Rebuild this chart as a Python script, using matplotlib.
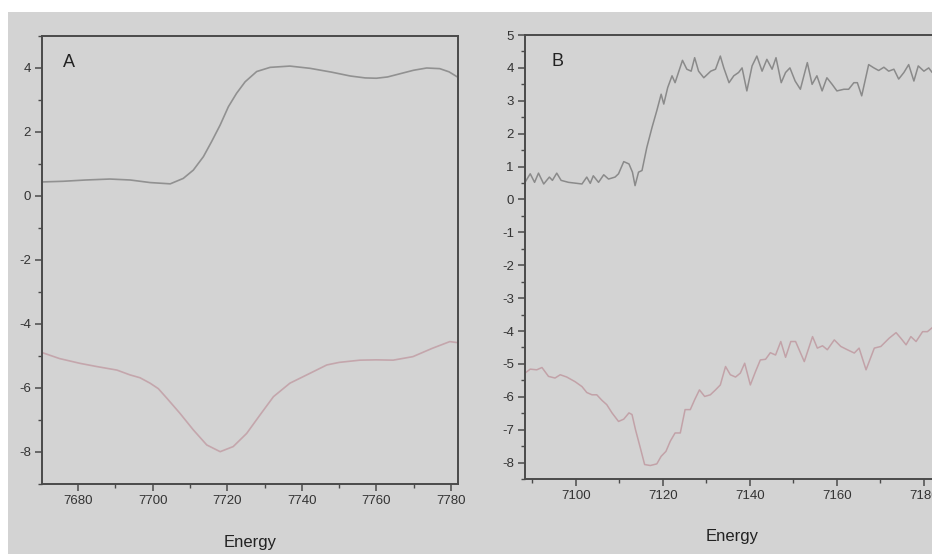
import matplotlib
matplotlib.use("Agg")
import matplotlib.pyplot as plt
from matplotlib.ticker import MultipleLocator
from matplotlib.patches import Rectangle

plt.rcParams['font.family'] = ['Liberation Sans', 'DejaVu Sans']
plt.rcParams['axes.unicode_minus'] = False

# ---- Panel A data ----
a_top_x = [7670.5, 7676, 7682, 7688.5, 7694, 7699.3, 7704.7, 7708.2, 7710.9, 7713.6,
           7715.8, 7718.1, 7720.3, 7722.5, 7724.8, 7727.9, 7731.5, 7736.8, 7742.2, 7748,
           7753, 7757, 7760, 7763, 7766, 7770, 7773.5, 7777, 7779.5, 7781.6]
a_top_y = [0.44, 0.46, 0.50, 0.53, 0.50, 0.42, 0.38, 0.55, 0.81, 1.23,
           1.70, 2.22, 2.79, 3.21, 3.57, 3.89, 4.02, 4.06, 3.99, 3.87,
           3.75, 3.69, 3.68, 3.72, 3.81, 3.93, 4.00, 3.98, 3.88, 3.73]
a_bot_x = [7670.5, 7675, 7680.5, 7685, 7690.4, 7693.9, 7696.6, 7699.3, 7701.5, 7703.8,
           7707.3, 7710.9, 7714.5, 7718.1, 7721.6, 7725.2, 7728.8, 7732.4, 7736.8, 7742.2,
           7746.7, 7750, 7755.6, 7760, 7764.5, 7769.8, 7775, 7779.7, 7781.6]
a_bot_y = [-4.90, -5.08, -5.23, -5.33, -5.44, -5.59, -5.68, -5.85, -6.02, -6.32,
           -6.79, -7.31, -7.78, -7.99, -7.83, -7.42, -6.84, -6.27, -5.85, -5.54,
           -5.28, -5.20, -5.13, -5.12, -5.13, -5.02, -4.76, -4.55, -4.58]

# ---- Panel B data ----
b_top_x = [7088.3, 7089.5, 7090.5, 7091.4, 7092.6, 7093.9, 7094.6, 7095.6, 7096.6, 7098.3,
           7100.2, 7101.4, 7102.5, 7103.3, 7104.0, 7105.2, 7106.4, 7107.5, 7109.0, 7109.8,
           7111.0, 7112.2, 7113.0, 7113.6, 7114.4, 7115.2, 7116.3, 7117.5, 7118.6, 7119.6,
           7120.2, 7121.1, 7122.1, 7122.8, 7124.5, 7125.5, 7126.5, 7127.3, 7128.2, 7129.4,
           7131.0, 7132.1, 7133.2, 7134.0, 7135.2, 7136.3, 7137.4, 7138.2, 7139.3, 7140.5,
           7141.6, 7142.8, 7143.9, 7145.1, 7146.0, 7147.2, 7148.2, 7149.2, 7150.4, 7151.6,
           7153.2, 7154.3, 7155.4, 7156.6, 7157.7, 7158.9, 7160.0, 7161.6, 7162.7, 7163.9,
           7164.7, 7165.7, 7167.3, 7168.5, 7169.6, 7170.8, 7171.9, 7173.1, 7174.2, 7175.4,
           7176.5, 7177.7, 7178.7, 7180.0, 7181.1, 7181.9, 7184.0]
b_top_y = [0.52, 0.78, 0.52, 0.80, 0.47, 0.68, 0.58, 0.80, 0.58, 0.52,
           0.49, 0.47, 0.68, 0.49, 0.72, 0.52, 0.75, 0.62, 0.68, 0.78,
           1.15, 1.08, 0.83, 0.42, 0.83, 0.88, 1.58, 2.19, 2.70, 3.20,
           2.90, 3.40, 3.76, 3.55, 4.23, 3.96, 3.90, 4.31, 3.90, 3.70,
           3.90, 3.96, 4.36, 4.00, 3.55, 3.76, 3.86, 4.00, 3.30, 4.06,
           4.36, 3.90, 4.26, 3.96, 4.31, 3.55, 3.86, 4.00, 3.60, 3.35,
           4.16, 3.50, 3.76, 3.30, 3.70, 3.50, 3.30, 3.35, 3.35, 3.55,
           3.55, 3.15, 4.10, 4.00, 3.92, 4.02, 3.90, 3.96, 3.66, 3.86,
           4.10, 3.60, 4.06, 3.90, 4.00, 3.86, 3.90]
b_bot_x = [7088.3, 7089.5, 7091.0, 7092.2, 7093.7, 7095.2, 7096.4, 7097.9, 7099.8, 7101.4,
           7102.5, 7103.7, 7104.8, 7106.0, 7107.1, 7108.3, 7109.8, 7111.0, 7112.2, 7112.9,
           7113.7, 7114.9, 7115.8, 7117.1, 7118.6, 7119.6, 7120.7, 7121.7, 7122.8, 7124.0,
           7125.1, 7126.3, 7127.3, 7128.4, 7129.6, 7130.9, 7132.1, 7133.2, 7134.4, 7135.5,
           7136.7, 7137.8, 7138.8, 7140.1, 7141.3, 7142.4, 7143.6, 7144.7, 7145.9, 7147.1,
           7148.2, 7149.4, 7150.5, 7152.5, 7154.4, 7155.5, 7156.7, 7157.8, 7159.4, 7160.9,
           7162.4, 7164.0, 7165.1, 7166.7, 7168.6, 7170.1, 7172.0, 7173.6, 7174.7, 7175.9,
           7177.0, 7178.2, 7179.7, 7180.8, 7182.0, 7184.0]
b_bot_y = [-5.28, -5.16, -5.18, -5.11, -5.38, -5.43, -5.33, -5.40, -5.54, -5.69,
           -5.87, -5.94, -5.94, -6.11, -6.24, -6.49, -6.75, -6.68, -6.49, -6.54,
           -7.00, -7.60, -8.06, -8.09, -8.04, -7.81, -7.66, -7.35, -7.10, -7.10,
           -6.39, -6.39, -6.09, -5.79, -5.99, -5.94, -5.79, -5.64, -5.08, -5.33,
           -5.40, -5.28, -4.98, -5.64, -5.23, -4.88, -4.86, -4.66, -4.73, -4.32,
           -4.80, -4.32, -4.32, -4.93, -4.17, -4.52, -4.45, -4.57, -4.27, -4.47,
           -4.57, -4.67, -4.52, -5.18, -4.52, -4.47, -4.22, -4.05, -4.22, -4.42,
           -4.17, -4.32, -4.02, -4.02, -3.89, -3.85]

a_xticks = [7680, 7700, 7720, 7740, 7760, 7780]
a_yticks = [4, 2, 0, -2, -4, -6, -8]
b_xticks = [7100, 7120, 7140, 7160, 7180]
b_yticks = [5, 4, 3, 2, 1, 0, -1, -2, -3, -4, -5, -6, -7, -8]

BG = '#d3d3d3'
SPINE = '#4a4a4a'
W, H = 932, 554

fig = plt.figure(figsize=(W / 100, H / 100), dpi=100, facecolor='white')
fig.patches.append(Rectangle((8 / W, 0), 1, 1 - 12 / H, transform=fig.transFigure,
                             facecolor=BG, edgecolor='none', zorder=-10))

axA = fig.add_axes([42 / W, 1 - 484 / H, 416 / W, 448 / H])
axB = fig.add_axes([525 / W, 1 - 479 / H, 415 / W, 444 / H])

for ax in (axA, axB):
    ax.set_facecolor(BG)
    for s in ax.spines.values():
        s.set_color(SPINE)
        s.set_linewidth(1.4)
    ax.tick_params(which='major', direction='out', length=5, width=1.1, color=SPINE,
                   labelsize=9.5, labelcolor='#333333', pad=3)
    ax.tick_params(which='minor', direction='out', length=3, width=1.0, color=SPINE)

axA.set_xlabel('Energy', fontsize=12, color='#222222', labelpad=20)
axB.set_xlabel('Energy', fontsize=12, color='#222222', labelpad=19.5)

axA.plot(a_top_x, a_top_y, color='#919191', lw=1.2)
axA.plot(a_bot_x, a_bot_y, color='#c4a6ac', lw=1.2)
axA.set_xlim(7670.3, 7781.9)
axA.set_ylim(-9, 5)
axA.set_xticks(a_xticks)
axA.set_yticks(a_yticks)
axA.xaxis.set_minor_locator(MultipleLocator(10))
axA.yaxis.set_minor_locator(MultipleLocator(1))
axA.text(0.05, 0.94, 'A', transform=axA.transAxes, fontsize=13, color='#222222',
         ha='left', va='center')

axB.plot(b_top_x, b_top_y, color='#8a8a8a', lw=1.1)
axB.plot(b_bot_x, b_bot_y, color='#c2a2a8', lw=1.1)
axB.set_xlim(7088.3, 7183.7)
axB.set_ylim(-8.5, 5)
axB.set_xticks(b_xticks)
axB.set_yticks(b_yticks)
axB.xaxis.set_minor_locator(MultipleLocator(10))
axB.yaxis.set_minor_locator(MultipleLocator(0.5))
axB.text(0.063, 0.941, 'B', transform=axB.transAxes, fontsize=13, color='#222222',
         ha='left', va='center')

fig.savefig('out.png', dpi=100, facecolor=fig.get_facecolor())
